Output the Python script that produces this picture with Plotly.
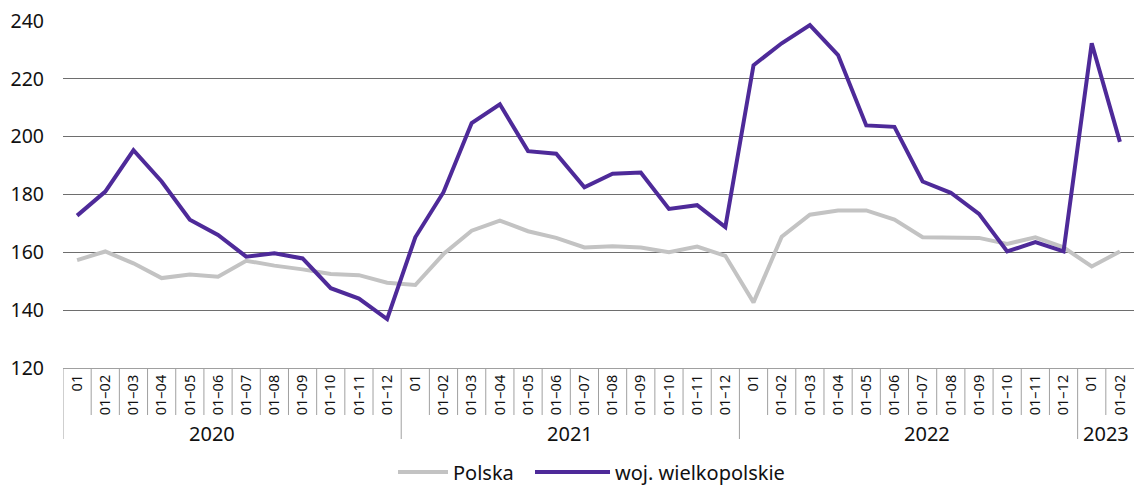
import plotly.graph_objects as go

years = ["2020", "2021", "2022", "2023"]
months_per_year = [12, 12, 12, 2]
month_labels_full = ["01", "01–02", "01–03", "01–04", "01–05", "01–06",
                     "01–07", "01–08", "01–09", "01–10", "01–11", "01–12"]

polska = [157.3, 160.3, 156.2, 151.1, 152.3, 151.6, 157.1, 155.4, 154.1, 152.5, 152.1, 149.5,
          148.7, 159.4, 167.5, 171.0, 167.3, 165.0, 161.7, 162.1, 161.7, 160.0, 162.0, 158.8,
          142.7, 165.4, 173.0, 174.5, 174.5, 171.3, 165.2, 165.2, 165.0, 162.9, 165.2, 161.7,
          155.1, 160.3]
wlkp = [172.7, 181.0, 195.3, 184.5, 171.3, 166.0, 158.5, 159.7, 157.9, 147.6, 144.0, 136.9,
        165.2, 180.8, 204.7, 211.2, 195.0, 194.1, 182.5, 187.2, 187.6, 175.0, 176.3, 168.7,
        224.7, 232.3, 238.6, 228.2, 203.9, 203.4, 184.5, 180.6, 173.3, 160.3, 163.5, 160.3,
        232.3, 198.2]

ticklabels = []
for n in months_per_year:
    ticklabels += month_labels_full[:n]
x = list(range(len(ticklabels)))

FONT = "Noto Sans"
TXT = "#111111"
W, H = 1134, 486
ML, MR, MT, MB = 63, 0, 21, 118
plot_w = W - ML - MR
plot_h = H - MT - MB

fig = go.Figure()
fig.add_trace(go.Scatter(x=x, y=polska, mode="lines", name="Polska",
                         line=dict(color="#c3c3c3", width=4), legend="legend"))
fig.add_trace(go.Scatter(x=x, y=wlkp, mode="lines", name="woj. wielkopolskie",
                         line=dict(color="#4e2a99", width=4), legend="legend2"))

shapes = []
start = 0
year_starts = set()
for n in months_per_year:
    year_starts.add(start)
    start += n
for i in range(len(x)):
    long_ = i in year_starts
    shapes.append(dict(type="line", xref="x", yref="paper", x0=i - 0.5, x1=i - 0.5,
                       y0=0, y1=-(71 if long_ else 47) / plot_h,
                       line=dict(color="#a0a0a0", width=1)))

year_shift = [-20, 0, 18, 0]
annotations = []
start = 0
for yname, n, sh in zip(years, months_per_year, year_shift):
    annotations.append(dict(text=yname, xref="x", yref="paper", x=start + (n - 1) / 2,
                            xshift=sh, y=-65 / plot_h, showarrow=False, yanchor="middle",
                            font=dict(size=20, color=TXT, family=FONT)))
    start += n

leg_common = dict(orientation="h", yref="container", xref="container", yanchor="middle",
                  y=1 - 472 / H, xanchor="left",
                  font=dict(size=20, family=FONT, color=TXT), bgcolor="rgba(0,0,0,0)")
fig.update_layout(
    width=W, height=H,
    margin=dict(l=ML, r=MR, t=MT, b=MB),
    plot_bgcolor="white", paper_bgcolor="white",
    font=dict(family=FONT, color=TXT),
    showlegend=True,
    legend=dict(x=393 / W, itemwidth=50, **leg_common),
    legend2=dict(x=530 / W, itemwidth=75, **leg_common),
    shapes=shapes, annotations=annotations,
)
fig.update_xaxes(range=[-0.5, len(x) - 0.5], tickvals=x, ticktext=ticklabels, tickangle=-90,
                 tickfont=dict(size=14.5, family=FONT, color=TXT), automargin=False,
                 showgrid=False, showline=True, linecolor="#a0a0a0", linewidth=1,
                 ticks="", zeroline=False, fixedrange=True)
fig.update_yaxes(range=[120, 240], dtick=20, tickfont=dict(size=19.5, family=FONT, color=TXT),
                 showgrid=True, gridcolor="#6e6e6e", gridwidth=1, zeroline=False, automargin=False,
                 ticks="", ticklabelstandoff=18, showline=False)
fig.write_html("out.html", post_script="document.body.style.margin='0';",
               config={"displayModeBar": False})
